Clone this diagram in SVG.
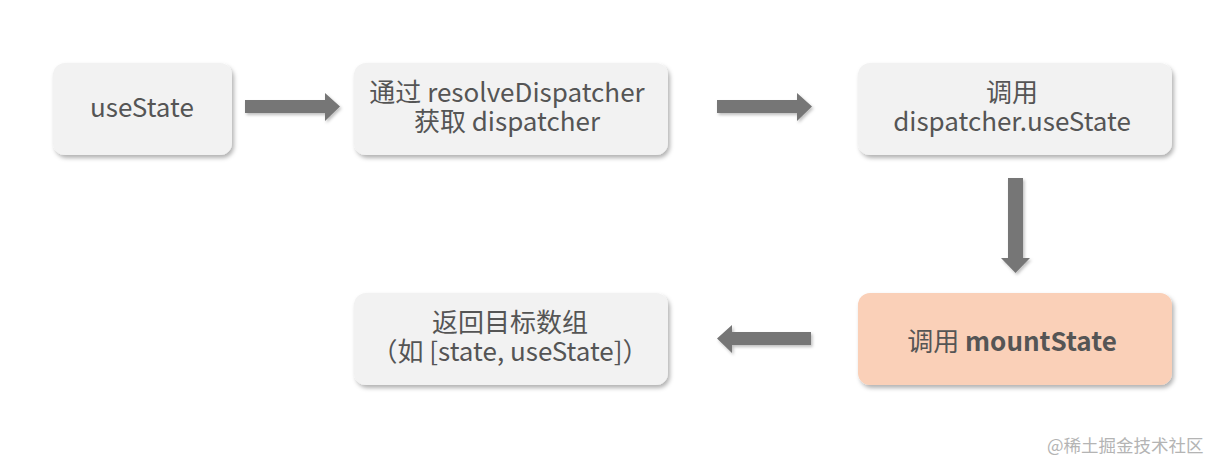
<svg xmlns="http://www.w3.org/2000/svg" width="1224" height="470" viewBox="0 0 1224 470">
<style>
.box{fill:#f2f2f2;filter:url(#sh)}
.hot{fill:#fad0b8;filter:url(#sh)}
.t{font-family:"Noto Sans CJK SC","Noto Sans",sans-serif;font-size:26px;fill:#555;text-anchor:middle}
.b{font-weight:bold}
.arr{fill:#767676;filter:url(#sh2)}
.wm{font-family:"Noto Sans CJK SC",sans-serif;font-size:17.5px;fill:#b4b4b4}
</style>
<defs>
<filter id="sh" x="-10%" y="-20%" width="125%" height="150%">
<feDropShadow dx="2" dy="3" stdDeviation="2" flood-color="#000" flood-opacity="0.3"/>
</filter>
<filter id="sh2" x="-20%" y="-30%" width="150%" height="170%">
<feDropShadow dx="1.5" dy="2" stdDeviation="1.5" flood-color="#000" flood-opacity="0.25"/>
</filter>
</defs>
<rect width="1224" height="470" fill="#fff"/>
<g id="n1">
<rect class="box" x="53" y="63" width="179" height="92" rx="12"/>
<text class="t" x="142" y="117">useState</text>
</g>
<g id="n2">
<rect class="box" x="354" y="63" width="314" height="92" rx="12"/>
<text class="t" x="507" y="101.5">通过 resolveDispatcher</text>
<text class="t" x="507" y="130.5">获取 dispatcher</text>
</g>
<g id="n3">
<rect class="box" x="858" y="63" width="314" height="92" rx="12"/>
<text class="t" x="1012" y="101.5">调用</text>
<text class="t" x="1012" y="130.5">dispatcher.useState</text>
</g>
<g id="n4">
<rect class="hot" x="858" y="293" width="314" height="92" rx="12"/>
<text class="t" x="1012" y="351">调用 <tspan class="b">mountState</tspan></text>
</g>
<g id="n5">
<rect class="box" x="354" y="293" width="314" height="92" rx="12"/>
<text class="t" x="510" y="331.5">返回目标数组</text>
<text class="t" x="510" y="360.5">（如 [state, useState]）</text>
</g>
<g id="connectors">
<polygon class="arr" points="245,100 325,100 325,93 340,106.5 325,121 325,113 245,113"/>
<polygon class="arr" points="717,100 797,100 797,93 812,106.5 797,121 797,113 717,113"/>
<polygon class="arr" points="1008,178 1023,178 1023,258 1030,258 1015.5,273 1001,258 1008,258"/>
<polygon class="arr" points="811,332 732,332 732,325 717,338.5 732,353 732,345 811,345"/>
</g>
<text class="wm" x="1047" y="452">@稀土掘金技术社区</text>
</svg>
